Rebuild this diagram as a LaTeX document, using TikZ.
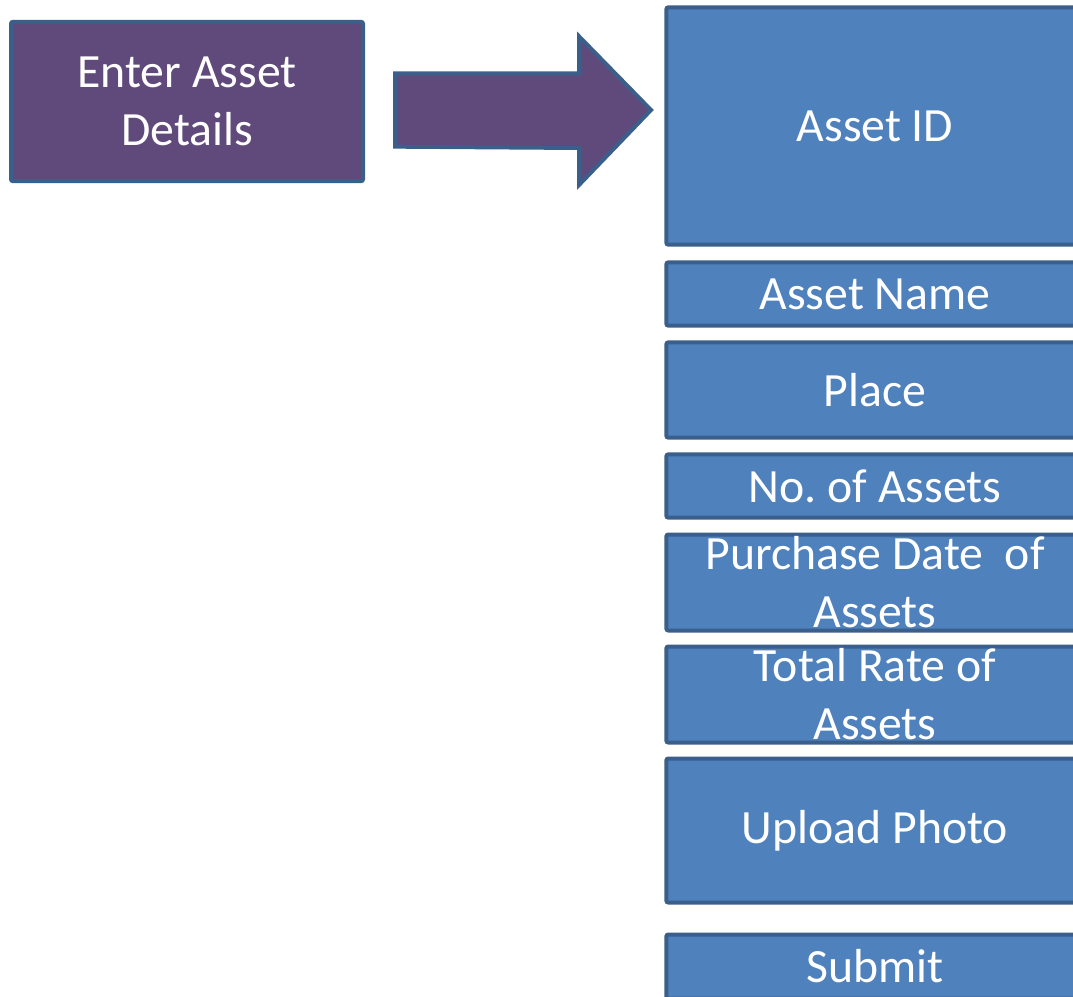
\documentclass[tikz,border=0pt]{standalone}
\usepackage{fontspec}
\setmainfont{Carlito}
\frenchspacing

\definecolor{boxpurple}{HTML}{604A7B}
\definecolor{boxblue}{HTML}{4F81BD}
\definecolor{boxedge}{HTML}{3A5F8B}

\begin{document}
\begin{tikzpicture}[%
  x=0.75pt, y=-0.75pt,
  every node/.style={text=white, font=\fontsize{35.8}{43.5}\selectfont,
    align=center, inner sep=0pt, outer sep=0pt},
  box/.style={draw=boxedge, line width=3pt, rounded corners=1.5pt},
  startbox/.style={box, fill=boxpurple,
    minimum width=264pt, minimum height=119.5pt},
  field/.style={box, fill=boxblue, minimum width=313pt},
  blockarrow/.style={draw=boxedge, line width=3pt, fill=boxpurple,
    line join=miter}]
  \path[use as bounding box, clip] (0,0) rectangle (1073,996);

  \node[startbox] (enter) at (187,101.5) {Enter Asset\\Details};

  % fields of the form
  \node[field, minimum height=178pt] (id) at (875,126) {Asset ID};
  \node[field, minimum height=47.5pt] (name) at (875,294) {Asset Name};
  \node[field, minimum height=71.5pt] (place) at (875,390) {Place};
  \node[field, minimum height=47.5pt] (count) at (875,486) {No. of Assets};
  \node[field, minimum height=72pt] (date) at (875,582.5) {Purchase Date\ \ of\\Assets};
  \node[field, minimum height=72pt] (rate) at (875,694.5) {Total Rate of\\Assets};
  \node[field, minimum height=108pt] (photo) at (875,830.5) {Upload Photo};
  \node[field, minimum height=48pt] (submit) at (875,966.5) {Submit};

  \coordinate (tail) at (395,110);
  \coordinate (tip) at (651,110);
  \draw[blockarrow] ([yshift=27.5pt]tail) -- ++(184,0) -- ++(0,-37)
    -- (tip) -- ++(-72,75) -- ++(0,-37) -- ([yshift=-27.5pt]tail) -- cycle;
\end{tikzpicture}
\end{document}
